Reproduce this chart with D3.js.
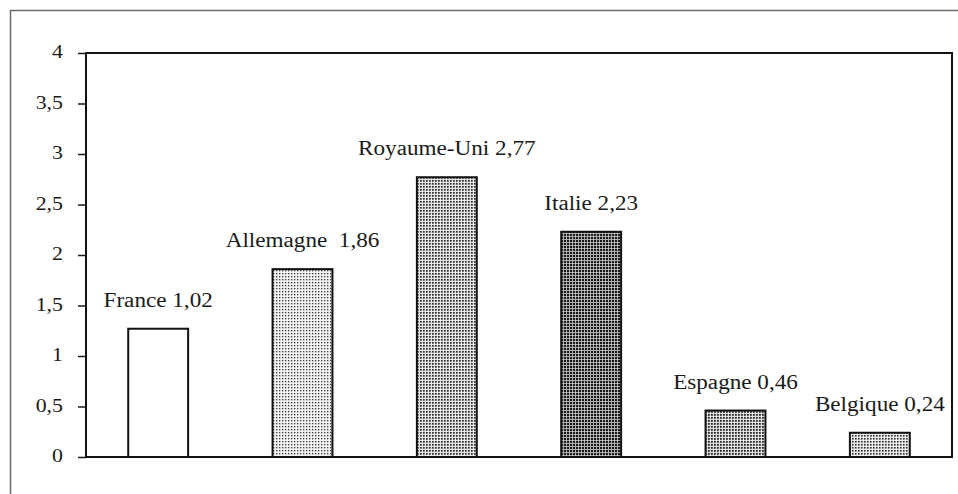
<!DOCTYPE html>
<html>
<head>
<meta charset="utf-8">
<script src="https://cdn.jsdelivr.net/npm/d3@7"></script>
<style>
    body { margin: 0; background: #fff; }
</style>
</head>
<body>
<div id="chart"></div>
<script>
// data
var countries = ["France", "Allemagne", "Royaume-Uni", "Italie", "Espagne", "Belgique"];
var values = [1.27, 1.86, 2.77, 2.23, 0.46, 0.24];          // bar heights as drawn
var labelValues = ["1,02", "1,86", "2,77", "2,23", "0,46", "0,24"]; // printed labels
var labelGaps = [" ", "  ", " ", " ", " ", " "];
var yTicks = [0, 0.5, 1, 1.5, 2, 2.5, 3, 3.5, 4];

var width = 958;
var height = 494;
// note: "top" is reserved on window, so use plot* names
var plotLeft = 86, plotRight = 952, plotTop = 53, plotBottom = 457;
var serif = "'Liberation Serif', 'DejaVu Serif', 'Times New Roman', Times, serif";

var svg = d3.select("#chart")
    .append("svg")
    .attr("width", width)
    .attr("height", height);

// dotted fills, one per bar (France is plain white)
var patterns = [
    null,
    { bg: "#f2f2f2", fg: "#3a3a3a", size: 1.3 },
    { bg: "#e6e6e6", fg: "#2a2a2a", size: 1.7 },
    { bg: "#bdbdbd", fg: "#1a1a1a", size: 2.1 },
    { bg: "#e0e0e0", fg: "#2a2a2a", size: 1.8 },
    { bg: "#ebebeb", fg: "#2e2e2e", size: 1.6 }
];

var defs = svg.append("defs");
patterns.forEach(function (p, i) {
    if (!p) return;
    var pat = defs.append("pattern")
        .attr("id", "dots" + i)
        .attr("patternUnits", "userSpaceOnUse")
        .attr("width", 3)
        .attr("height", 3);
    pat.append("rect").attr("width", 3).attr("height", 3).attr("fill", p.bg);
    pat.append("rect").attr("width", p.size).attr("height", p.size).attr("fill", p.fg);
});

// outer frame of the scanned figure
svg.append("rect")
    .attr("x", 10.5)
    .attr("y", 10.5)
    .attr("width", 1000)
    .attr("height", 1000)
    .attr("fill", "none")
    .attr("stroke", "#6a6a6a")
    .attr("stroke-width", 1.5);

var x = d3.scaleBand()
    .domain(countries)
    .range([plotLeft, plotRight])
    .paddingInner(0.585)
    .paddingOuter(0.2925);

var y = d3.scaleLinear()
    .domain([0, 4])
    .range([plotBottom, plotTop]);

var yAxis = d3.axisLeft(y)
    .tickValues(yTicks)
    .tickSize(8)
    .tickSizeOuter(0)
    .tickFormat(function (d) { return String(d).replace(".", ","); });

var gy = svg.append("g")
    .attr("transform", "translate(" + plotLeft + ",0)")
    .call(yAxis)
    .attr("font-family", serif)
    .attr("font-size", 19);

gy.select(".domain").remove();
gy.selectAll(".tick line").attr("stroke", "#1a1a1a").attr("stroke-width", 1.5);
gy.selectAll(".tick text")
    .attr("x", 0)
    .attr("dy", "0.3em")
    .attr("transform", "translate(-23,-1) scale(1.15,1)")
    .style("font-family", serif)
    .style("font-size", "19px")
    .attr("fill", "#1a1a1a");

// plot area border
svg.append("rect")
    .attr("x", plotLeft)
    .attr("y", plotTop)
    .attr("width", plotRight - plotLeft)
    .attr("height", plotBottom - plotTop)
    .attr("fill", "none")
    .attr("stroke", "#111")
    .attr("stroke-width", 2);

svg.selectAll(".bar")
    .data(values)
    .enter()
    .append("rect")
    .attr("class", "bar")
    .attr("x", function (d, i) { return x(countries[i]); })
    .attr("y", function (d) { return y(d); })
    .attr("width", x.bandwidth())
    .attr("height", function (d) { return y(0) - y(d); })
    .attr("fill", function (d, i) { return patterns[i] ? "url(#dots" + i + ")" : "#fff"; })
    .attr("stroke", "#111")
    .attr("stroke-width", 2);

svg.selectAll(".label")
    .data(values)
    .enter()
    .append("text")
    .attr("class", "label")
    .attr("transform", function (d, i) {
        var cx = x(countries[i]) + x.bandwidth() / 2;
        return "translate(" + cx + "," + (y(d) - 22) + ") scale(1.13,1)";
    })
    .attr("text-anchor", "middle")
    .attr("fill", "#1a1a1a")
    .style("font-family", serif)
    .style("font-size", "20.5px")
    .style("white-space", "pre")
    .text(function (d, i) { return countries[i] + labelGaps[i] + labelValues[i]; });
</script>
</body>
</html>
